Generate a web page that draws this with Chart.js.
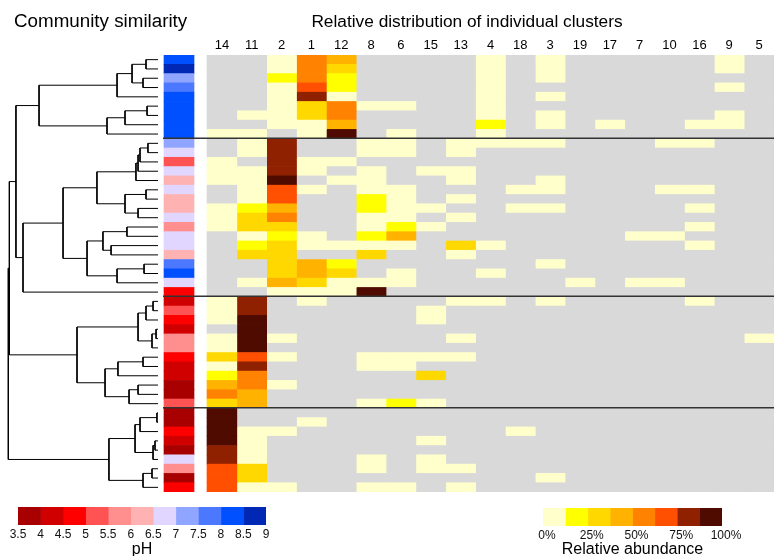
<!DOCTYPE html>
<html><head><meta charset="utf-8">
<script src="https://cdn.jsdelivr.net/npm/chart.js@4.4.1/dist/chart.umd.min.js"></script>
<style>
html,body{margin:0;padding:0;background:#fff;}
#wrap{position:relative;width:774px;height:556px;overflow:hidden;background:#fff;}
canvas{position:absolute;}
</style></head><body>
<div id="wrap">
<canvas id="dendro" width="200" height="492" style="left:0;top:0"></canvas>
<canvas id="heat" width="614" height="556" style="left:160px;top:0"></canvas>
<canvas id="phLeg" width="290" height="59" style="left:0;top:500px"></canvas>
<canvas id="abLeg" width="254" height="59" style="left:520px;top:500px"></canvas>
</div>
<script>
// ---------------- DATA ----------------
const clusterLabels = ['14','11','2','1','12','8','6','15','13','4','18','3','19','17','7','10','16','9','5'];
const sampleIds = ['S01','S02','S03','S04','S05','S06','S07','S08','S09','S10','S11','S12','S13','S14','S15','S16',
  'S17','S18','S19','S20','S21','S22','S23','S24','S25','S26','S27','S28','S29','S30','S31','S32','S33','S34',
  'S35','S36','S37','S38','S39','S40','S41','S42','S43','S44','S45','S46','S47'];
const groupSizes = [9, 17, 12, 9];
const samplePH = [
  8.2,8.7,7.2,7.8,8.3,8.1,8.2,8.4,8.3,
  7.3,6.8,5.3,6.7,6.3,6.9,6.2,6.4,6.8,5.8,6.6,6.9,6.1,7.7,8.1,6.7,4.8,
  4.3,5.2,4.7,4.2,5.7,5.9,4.8,4.1,4.4,3.8,3.9,5.4,
  3.7,3.9,4.6,4.3,3.8,6.8,5.6,3.9,4.9];
// relative abundance (%) of each cluster in each sample, 0 = not detected
const c14 = [0,0,0,0,0,0,0,0,5, 0,0,5,5,5,0,0,5,5,5,0,0,0,0,0,0,0, 5,5,5,0,5,5,31,5,18,43,56,31, 94,94,94,94,81,81,68,68,68];
const c11 = [0,0,0,0,0,0,5,0,5, 5,5,0,5,5,5,5,18,31,31,5,18,31,0,0,5,0, 81,81,94,94,94,94,68,81,56,56,43,43, 0,0,5,5,5,5,31,31,5];
const c2  = [5,5,18,5,5,5,5,5,0, 81,81,81,81,94,68,68,43,56,31,18,31,31,31,31,43,5, 0,0,0,0,5,0,5,0,0,5,0,0, 0,0,5,0,0,0,0,0,5];
const c1  = [56,56,56,68,81,31,31,5,5, 0,0,5,5,0,5,0,0,0,0,5,5,0,43,43,31,5, 5,0,0,0,0,0,0,0,0,0,0,0, 0,5,0,0,0,0,0,0,0];
const c12 = [43,31,18,18,5,56,56,43,94, 0,0,5,0,5,0,0,0,0,0,0,5,0,18,31,5,5, 0,0,0,0,0,0,0,0,0,0,0,0, 0,0,0,0,0,0,0,0,0];
const c8  = [0,0,0,0,0,5,0,0,0, 5,5,0,5,5,5,18,18,5,5,18,5,31,0,0,5,94, 0,0,0,0,0,0,5,5,0,0,0,5, 0,0,0,0,0,5,5,0,5];
const c6  = [0,0,0,0,0,5,0,0,5, 5,5,0,0,0,5,5,5,5,18,43,5,0,0,5,5,0, 0,0,0,0,0,0,5,5,0,0,0,18, 0,0,0,0,0,0,0,0,5];
const c15 = [0,0,0,0,0,0,0,0,0, 0,0,0,5,0,0,0,5,0,5,0,0,0,0,0,0,0, 0,5,5,0,0,0,5,0,31,0,0,5, 0,0,0,5,0,5,5,0,0];
const c13 = [0,0,0,0,0,0,0,0,0, 5,5,0,5,5,0,5,0,5,0,0,31,5,0,0,0,0, 5,0,0,0,5,0,5,0,0,0,0,0, 0,0,0,0,0,0,5,0,5];
const c4  = [5,5,5,5,5,5,5,18,5, 5,0,0,0,0,0,0,0,0,0,0,5,0,0,5,0,0, 5,0,0,0,0,0,0,0,0,0,0,0, 0,0,0,0,0,0,0,0,0];
const c18 = [0,0,0,0,0,0,0,0,0, 5,0,0,0,0,5,0,5,0,0,0,0,0,0,0,0,0, 0,0,0,0,0,0,0,0,0,0,0,0, 0,0,5,0,0,0,0,0,0];
const c3  = [5,5,5,0,5,0,5,5,0, 5,0,0,0,5,5,0,5,0,0,0,0,0,5,0,0,0, 5,0,0,0,0,0,0,0,0,0,0,0, 0,0,0,0,0,0,0,5,0];
const c19 = [0,0,0,0,0,0,0,0,0, 0,0,0,0,0,0,0,0,0,0,0,0,0,0,0,5,0, 0,0,0,0,0,0,0,0,0,0,0,0, 0,0,0,0,0,0,0,0,0];
const c17 = [0,0,0,0,0,0,0,5,0, 0,0,0,0,0,0,0,0,0,0,0,0,0,0,0,0,0, 0,0,0,0,0,0,0,0,0,0,0,0, 0,0,0,0,0,0,0,0,0];
const c7  = [0,0,0,0,0,0,0,0,0, 0,0,0,0,0,0,0,0,0,0,5,0,0,0,0,5,0, 0,0,0,0,0,0,0,0,0,0,0,0, 0,0,0,0,0,0,0,0,0];
const c10 = [0,0,0,0,0,0,0,0,0, 5,0,0,0,0,5,0,0,0,0,5,0,0,0,0,5,0, 0,0,0,0,0,0,0,0,0,0,0,0, 0,0,0,0,0,0,0,0,0];
const c16 = [0,0,0,0,0,0,0,5,0, 5,0,0,0,0,5,0,5,0,5,0,5,0,0,0,0,0, 5,0,0,0,0,0,0,0,0,0,0,0, 0,0,0,0,0,0,0,0,0];
const c9  = [5,5,0,5,0,0,5,5,0, 0,0,0,0,0,0,0,0,0,0,0,0,0,0,0,0,0, 0,0,0,0,0,0,0,0,0,0,0,0, 0,0,0,0,0,0,0,0,0];
const c5  = [0,0,0,0,0,0,0,0,0, 0,0,0,0,0,0,0,0,0,0,0,0,0,0,0,0,0, 0,0,0,0,5,0,0,0,0,0,0,0, 0,0,0,0,0,0,0,0,0];
const clusterValues = [c14,c11,c2,c1,c12,c8,c6,c15,c13,c4,c18,c3,c19,c17,c7,c10,c16,c9,c5];

// dendrogram (hclust-style merges: negative = leaf -(row+1), positive = earlier merge number)
const mergeLeft  = [-1,-3, 1, 3,-6, 5, 6, 4,-10, 9,10,11,-15,-17,13,12,-19,-21,17,-23,20,19,16,23, 8,-27,26,-30,28,27,-33,31,-36,33,32,30,-39,37,-42,39,38,-45,42,41,25,45];
const mergeRight = [-2,-4, 2,-5,-7,-8,-9, 7,-11,-12,-13,-14,-16,-18,14,15,-20,-22,18,-24,-25,21,22,-26,24,-28,-29,-31,-32,29,-34,-35,-37,-38,34,35,-40,-41,-43,-44,40,-46,-47,43,36,44];
const mergeHeight = [0.080,0.100,0.173,0.273,0.073,0.220,0.340,0.793,0.067,0.120,0.133,0.147,0.080,0.133,0.220,0.407,
  0.207,0.313,0.367,0.093,0.273,0.473,0.633,0.900,0.947,0.033,0.080,0.013,0.040,0.133,0.100,0.267,0.133,0.193,0.353,0.540,
  0.007,0.120,0.020,0.033,0.153,0.040,0.100,0.327,0.991,0.998];

// legend scales
const phBreaks = [3.5,4,4.5,5,5.5,6,6.5,7,7.5,8,8.5,9];
const phColors = ['#A80000','#D00000','#FF0000','#FF5252','#FF8E8E','#FFB2B2','#E0D6FF','#8FA5FF','#4C78FF','#0050FF','#0028B4'];
const abundanceBreaks = [0,12.5,25,37.5,50,62.5,75,87.5,100];
const abundanceTicks = [0,25,50,75,100];
const abundanceColors = ['#FFFFCC','#FFFF00','#FFD800','#FFB300','#FF8300','#FF4F00','#8F2100','#4F0B00'];
const absentColor = '#D9D9D9';

// ---------------- HELPERS ----------------
function phColor(v){
  let i = Math.floor((v - phBreaks[0]) / 0.5);
  i = Math.max(0, Math.min(phColors.length - 1, i));
  return phColors[i];
}
function abundanceColor(v){
  if (!(v > 0)) return absentColor;
  let i = Math.floor(v / 12.5);
  return abundanceColors[Math.min(abundanceColors.length - 1, i)];
}

Chart.defaults.font.family = '"Liberation Sans", Arial, Helvetica, sans-serif';
Chart.defaults.color = '#000';
Chart.defaults.animation = false;
Chart.defaults.events = [];
Chart.defaults.plugins.legend.display = false;
Chart.defaults.plugins.tooltip.enabled = false;

const FONT_TITLE = 17.3;

// ---------------- HEATMAP ----------------
const HEAT_W = 614, PH_OFFSET = 4, PH_W = 30, FIRST_COL = 47;
const COL_W = (HEAT_W - FIRST_COL) / clusterLabels.length;

const separatorPlugin = {
  id: 'groupSeparators',
  afterDatasetsDraw(chart, args, opts) {
    const {ctx, chartArea, scales} = chart;
    const y = scales.y;
    ctx.save();
    ctx.strokeStyle = opts.color; ctx.lineWidth = opts.width;
    let acc = 0;
    groupSizes.slice(0, -1).forEach(n => {
      acc += n;
      const py = (y.getPixelForValue(acc - 1) + y.getPixelForValue(acc)) / 2 - 0.5;
      ctx.beginPath(); ctx.moveTo(chartArea.left + opts.inset, py); ctx.lineTo(chartArea.right, py); ctx.stroke();
    });
    ctx.restore();
  }
};

const cellOpts = {grouped: false, barPercentage: 1, categoryPercentage: 1, borderWidth: 0};
const phDataset = Object.assign({
  label: 'pH', data: samplePH.map(() => [0, 1]), backgroundColor: samplePH.map(phColor), xAxisID: 'xp', yAxisID: 'y'
}, cellOpts);
const heatDatasets = clusterValues.map((vals, j) => Object.assign({
  label: 'Cluster ' + clusterLabels[j], data: vals.map(() => [j, j + 1]),
  backgroundColor: vals.map(abundanceColor), xAxisID: 'x', yAxisID: 'y'
}, cellOpts));

new Chart(document.getElementById('heat'), {
  type: 'bar',
  data: {labels: sampleIds, datasets: [phDataset].concat(heatDatasets)},
  options: {
    indexAxis: 'y', responsive: false,
    layout: {padding: {left: 0, right: 0, top: 0, bottom: 64}},
    plugins: {
      title: {display: true, text: 'Relative distribution of individual clusters',
        font: {size: FONT_TITLE, weight: 'normal'}, color: '#000', padding: {top: 12, bottom: 2.24}},
      groupSeparators: {color: '#333', width: 1.5, inset: 3}
    },
    scales: {
      x: {type: 'linear', position: 'top', min: -FIRST_COL / COL_W, max: clusterLabels.length,
        grid: {display: false, drawTicks: false}, border: {display: false},
        afterBuildTicks: s => { s.ticks = clusterLabels.map((_, i) => ({value: i + 0.5})); },
        afterFit: s => { s.height = 20; },
        ticks: {autoSkip: false, maxRotation: 0, padding: 2, font: {size: 13}, color: '#000',
          callback: (v, i) => clusterLabels[i]}},
      xp: {type: 'linear', position: 'top', display: false, min: -PH_OFFSET / PH_W, max: (HEAT_W - PH_OFFSET) / PH_W},
      y: {type: 'category', display: false, offset: true}
    }
  },
  plugins: [separatorPlugin]
});

// ---------------- DENDROGRAM ----------------
const nodeY = [];
function nodePos(ref){
  return ref < 0 ? {y: -ref - 1, h: 0} : {y: nodeY[ref - 1], h: mergeHeight[ref - 1]};
}
const dendroSegs = [];
for (let k = 0; k < mergeHeight.length; k++) {
  const a = nodePos(mergeLeft[k]), b = nodePos(mergeRight[k]), h = mergeHeight[k];
  nodeY[k] = (a.y + b.y) / 2;
  dendroSegs.push({x: a.h, y: a.y}, {x: h, y: a.y}, {x: h, y: b.y}, {x: b.h, y: b.y}, {x: null, y: null});
}
new Chart(document.getElementById('dendro'), {
  type: 'line',
  data: {datasets: [{data: dendroSegs, borderColor: '#000', borderWidth: 1, pointRadius: 0,
    spanGaps: false, tension: 0, clip: false, fill: false}]},
  options: {
    responsive: false,
    layout: {padding: {left: 14, right: 0, top: 0, bottom: 0}},
    plugins: {title: {display: true, align: 'start', text: 'Community similarity',
      font: {size: 18.8, weight: 'normal'}, color: '#000', padding: {top: 11, bottom: 21.44}}},
    scales: {
      x: {type: 'linear', reverse: true, min: -0.28, max: 0.96, display: false},
      y: {type: 'linear', reverse: true, min: -0.5, max: groupSizes.reduce((s, n) => s + n, 0) - 0.5, display: false}
    }
  }
});

// ---------------- LEGENDS ----------------
const LEG_H = 59;
function legendChart(id, breaks, colors, ticks, titleText, pad, fmt, labelOffset){
  return new Chart(document.getElementById(id), {
    type: 'bar',
    data: {labels: [titleText], datasets: colors.map((c, i) => Object.assign({
      data: [[breaks[i], breaks[i + 1]]], backgroundColor: c}, cellOpts))},
    options: {
      indexAxis: 'y', responsive: false,
      layout: {padding: pad},
      scales: {
        x: {type: 'linear', min: breaks[0], max: breaks[breaks.length - 1],
          grid: {display: false, drawTicks: false}, border: {display: false},
          afterBuildTicks: s => { s.ticks = ticks.map(v => ({value: v})); },
          afterFit: s => { s.height = LEG_H - pad.top - 18; },
          ticks: {autoSkip: false, maxRotation: 0, padding: 2, font: {size: 12}, color: '#111',
            labelOffset: labelOffset, callback: v => fmt(v)},
          title: {display: true, text: titleText, font: {size: 16}, color: '#000', padding: 0}},
        y: {display: false}
      }
    }
  });
}
legendChart('phLeg', phBreaks, phColors, phBreaks, 'pH', {left: 18, right: 24, top: 7, bottom: 0}, v => String(v), 0);
legendChart('abLeg', abundanceBreaks, abundanceColors, abundanceTicks, 'Relative abundance',
  {left: 23, right: 52, top: 8, bottom: 0}, v => v + '%', 4);
</script>
</body></html>
